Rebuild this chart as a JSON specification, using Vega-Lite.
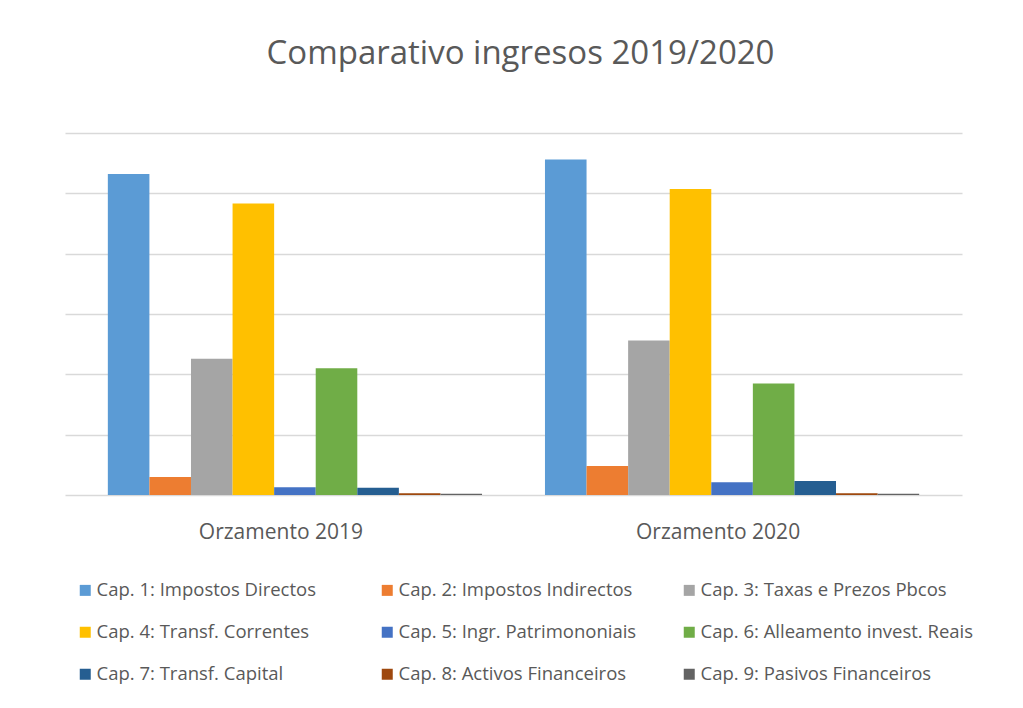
{
  "$schema": "https://vega.github.io/schema/vega-lite/v6.json",
  "width": 897,
  "height": 362,
  "autosize": {"type": "none"},
  "padding": {"left": 65, "top": 133, "right": 61, "bottom": 213},
  "background": "white",
  "title": {
    "text": "Comparativo ingresos 2019/2020",
    "font": "Open Sans",
    "fontSize": 33,
    "fontWeight": "normal",
    "color": "#595959",
    "anchor": "middle",
    "dx": 7,
    "offset": 62
  },
  "data": {
    "values": [
      {"orzamento": "Orzamento 2019", "capitulo": "Cap. 1: Impostos Directos", "valor": 5.32},
      {"orzamento": "Orzamento 2019", "capitulo": "Cap. 2: Impostos Indirectos", "valor": 0.30},
      {"orzamento": "Orzamento 2019", "capitulo": "Cap. 3: Taxas e Prezos Pbcos", "valor": 2.26},
      {"orzamento": "Orzamento 2019", "capitulo": "Cap. 4: Transf. Correntes", "valor": 4.83},
      {"orzamento": "Orzamento 2019", "capitulo": "Cap. 5: Ingr. Patrimononiais", "valor": 0.13},
      {"orzamento": "Orzamento 2019", "capitulo": "Cap. 6: Alleamento invest. Reais", "valor": 2.10},
      {"orzamento": "Orzamento 2019", "capitulo": "Cap. 7: Transf. Capital", "valor": 0.12},
      {"orzamento": "Orzamento 2019", "capitulo": "Cap. 8: Activos Financeiros", "valor": 0.03},
      {"orzamento": "Orzamento 2019", "capitulo": "Cap. 9: Pasivos Financeiros", "valor": 0.02},
      {"orzamento": "Orzamento 2020", "capitulo": "Cap. 1: Impostos Directos", "valor": 5.56},
      {"orzamento": "Orzamento 2020", "capitulo": "Cap. 2: Impostos Indirectos", "valor": 0.48},
      {"orzamento": "Orzamento 2020", "capitulo": "Cap. 3: Taxas e Prezos Pbcos", "valor": 2.56},
      {"orzamento": "Orzamento 2020", "capitulo": "Cap. 4: Transf. Correntes", "valor": 5.07},
      {"orzamento": "Orzamento 2020", "capitulo": "Cap. 5: Ingr. Patrimononiais", "valor": 0.21},
      {"orzamento": "Orzamento 2020", "capitulo": "Cap. 6: Alleamento invest. Reais", "valor": 1.85},
      {"orzamento": "Orzamento 2020", "capitulo": "Cap. 7: Transf. Capital", "valor": 0.23},
      {"orzamento": "Orzamento 2020", "capitulo": "Cap. 8: Activos Financeiros", "valor": 0.03},
      {"orzamento": "Orzamento 2020", "capitulo": "Cap. 9: Pasivos Financeiros", "valor": 0.02}
    ]
  },
  "mark": {"type": "bar"},
  "encoding": {
    "x": {
      "field": "orzamento",
      "type": "nominal",
      "scale": {"paddingInner": 0.144, "paddingOuter": 0.098},
      "axis": {
        "title": null,
        "labelAngle": 0,
        "ticks": false,
        "domain": false,
        "labelFont": "Open Sans",
        "labelFontSize": 21,
        "labelColor": "#595959",
        "labelPadding": 26,
        "labelOffset": -14
      }
    },
    "xOffset": {
      "field": "capitulo",
      "type": "nominal",
      "scale": {"paddingInner": 0, "paddingOuter": 0}
    },
    "y": {
      "field": "valor",
      "type": "quantitative",
      "scale": {"domain": [0, 6], "nice": false},
      "axis": {
        "title": null,
        "labels": false,
        "ticks": false,
        "domain": false,
        "tickCount": 6,
        "grid": true,
        "gridColor": "#D9D9D9",
        "gridWidth": 1.5
      }
    },
    "color": {
      "field": "capitulo",
      "type": "nominal",
      "scale": {
        "domain": [
          "Cap. 1: Impostos Directos",
          "Cap. 2: Impostos Indirectos",
          "Cap. 3: Taxas e Prezos Pbcos",
          "Cap. 4: Transf. Correntes",
          "Cap. 5: Ingr. Patrimononiais",
          "Cap. 6: Alleamento invest. Reais",
          "Cap. 7: Transf. Capital",
          "Cap. 8: Activos Financeiros",
          "Cap. 9: Pasivos Financeiros"
        ],
        "range": ["#5B9BD5", "#ED7D31", "#A5A5A5", "#FFC000", "#4472C4", "#70AD47", "#255E91", "#9E480E", "#636363"]
      },
      "legend": {
        "title": null,
        "orient": "none",
        "legendX": 11,
        "legendY": 448,
        "direction": "horizontal",
        "columns": 3,
        "gridAlign": "all",
        "columnPadding": 8,
        "rowPadding": 23,
        "padding": 0,
        "symbolType": "square",
        "symbolSize": 121,
        "symbolStrokeWidth": 0,
        "symbolOffset": 0,
        "labelOffset": 2,
        "labelFont": "Open Sans",
        "labelFontSize": 18.5,
        "labelColor": "#595959",
        "labelLimit": 400
      }
    }
  },
  "config": {"view": {"stroke": null}}
}
